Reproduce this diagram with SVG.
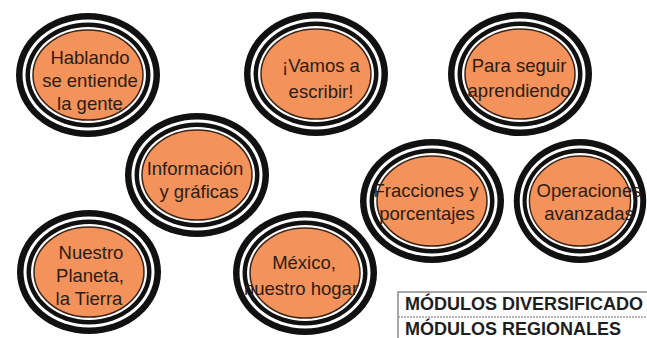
<svg xmlns="http://www.w3.org/2000/svg" xmlns:xlink="http://www.w3.org/1999/xlink" width="647" height="338" viewBox="0 0 647 338">
<style>
.lbl{font-family:"Liberation Sans",Arial,sans-serif;font-size:18.5px;fill:#2b1d14;text-anchor:middle}
.tbl{font-family:"Liberation Sans",Arial,sans-serif;font-size:18px;font-weight:bold;fill:#1e1e1e}
.blk{fill:#111}
.wht{fill:#fff}
.org{fill:#f4925c;stroke:#3a2416;stroke-width:1.5}
</style>
<defs>
<g id="ring">
<ellipse class="blk" rx="72" ry="62"/>
<ellipse class="wht" rx="65.5" ry="55.5"/>
<ellipse class="blk" rx="62.5" ry="52.5"/>
<ellipse class="wht" rx="58" ry="48"/>
<ellipse class="org" rx="55" ry="45"/>
</g>
</defs>
<rect width="647" height="338" fill="#fff"/>
<g id="connectors"/>
<g id="n-hablando">
<use xlink:href="#ring" transform="translate(88,75)"/>
<text class="lbl" x="90" y="64">Hablando<tspan x="90" dy="23">se entiende</tspan><tspan x="90" dy="23">la gente</tspan></text>
</g>
<g id="n-vamos">
<use xlink:href="#ring" transform="translate(316,74)"/>
<text class="lbl" x="321" y="72">¡Vamos a<tspan x="321" dy="26">escribir!</tspan></text>
</g>
<g id="n-seguir">
<use xlink:href="#ring" transform="translate(520,74)"/>
<text class="lbl" x="519" y="72">Para seguir<tspan x="519" dy="25">aprendiendo</tspan></text>
</g>
<g id="n-informacion">
<use xlink:href="#ring" transform="translate(197,175)"/>
<text class="lbl" x="195" y="175">Información<tspan x="199" dy="23">y gráficas</tspan></text>
</g>
<g id="n-fracciones">
<use xlink:href="#ring" transform="translate(432,201)"/>
<text class="lbl" x="426" y="197">Fracciones y<tspan x="427" dy="23">porcentajes</tspan></text>
</g>
<g id="n-operaciones">
<use xlink:href="#ring" transform="translate(580,201) scale(0.92,1)"/>
<text class="lbl" x="589" y="197">Operaciones<tspan x="589" dy="23">avanzadas</tspan></text>
</g>
<g id="n-planeta">
<use xlink:href="#ring" transform="translate(89,272)"/>
<text class="lbl" x="91" y="259">Nuestro<tspan x="90" dy="23">Planeta,</tspan><tspan x="89" dy="23">la Tierra</tspan></text>
</g>
<g id="n-mexico">
<use xlink:href="#ring" transform="translate(305,273)"/>
<text class="lbl" x="304" y="269">México,<tspan x="301" dy="26">nuestro hogar</tspan></text>
</g>
<g id="table">
<path d="M398 339 V292 H647" fill="none" stroke="#8a8a8a" stroke-width="1.5"/>
<line x1="398" y1="317" x2="647" y2="317" stroke="#9a9a9a" stroke-width="1.5" stroke-dasharray="2 1"/>
<text class="tbl" x="405" y="310">MÓDULOS DIVERSIFICADO</text>
<text class="tbl" x="405" y="335">MÓDULOS REGIONALES</text>
</g>
</svg>
